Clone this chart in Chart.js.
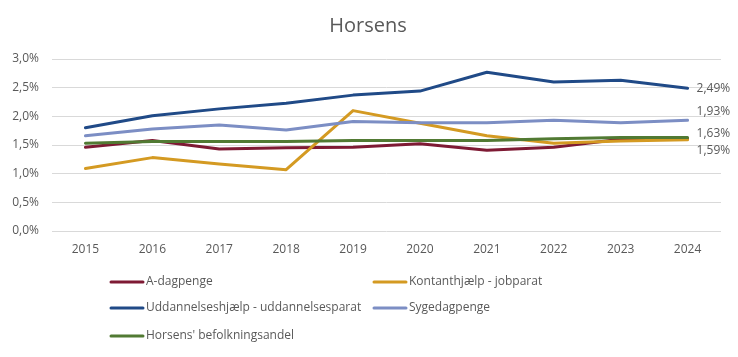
<!DOCTYPE html>
<html>
<head>
<meta charset="utf-8">
<script src="https://cdn.jsdelivr.net/npm/chart.js@4.4.1/dist/chart.umd.min.js"></script>
<style>
html,body{margin:0;padding:0;background:#fff;}
canvas{display:block;}
</style>
</head>
<body>
<canvas id="c" width="738" height="357"></canvas>
<script>
const categories = ['2015','2016','2017','2018','2019','2020','2021','2022','2023','2024'];
const aDagpenge = [1.46,1.58,1.43,1.45,1.46,1.52,1.41,1.46,1.60,1.61];
const kontanthjaelp = [1.09,1.28,1.17,1.07,2.10,1.88,1.66,1.53,1.57,1.59];
const uddannelseshjaelp = [1.80,2.01,2.13,2.23,2.37,2.44,2.77,2.60,2.63,2.49];
const sygedagpenge = [1.66,1.78,1.85,1.76,1.91,1.89,1.89,1.93,1.89,1.93];
const befolkningsandel = [1.53,1.56,1.56,1.56,1.58,1.58,1.58,1.61,1.63,1.63];
const seriesNames = ['A-dagpenge','Kontanthjælp - jobparat','Uddannelseshjælp - uddannelsesparat','Sygedagpenge',"Horsens' befolkningsandel"];
const yTicks = [0,0.5,1.0,1.5,2.0,2.5,3.0];

const colors = ['#7E1A34','#D49A22','#204A87','#7C8EC4','#517A33'];
const seriesData = [aDagpenge,kontanthjaelp,uddannelseshjaelp,sygedagpenge,befolkningsandel];
// end labels: dataset index -> vertical offset
const endLabels = [{i:2,dy:0},{i:3,dy:-9},{i:4,dy:-4},{i:1,dy:11}];

const FONT = "'Open Sans', sans-serif";
const GREY = '#595959';

const datasets = seriesData.map((d,i)=>({
  label: seriesNames[i],
  data: d,
  borderColor: colors[i],
  backgroundColor: colors[i],
  borderWidth: 3,
  pointRadius: 0,
  pointHoverRadius: 0,
  tension: 0,
  borderJoinStyle: 'round',
  borderCapStyle: 'round',
  fill: false,
  order: 4 - i
}));

const extras = {
  id: 'extras',
  afterDatasetsDraw(chart){
    const ctx = chart.ctx;
    ctx.save();
    ctx.font = '12px ' + FONT;
    ctx.fillStyle = GREY;
    ctx.textAlign = 'left';
    ctx.textBaseline = 'middle';
    endLabels.forEach(l=>{
      const meta = chart.getDatasetMeta(l.i);
      const pt = meta.data[meta.data.length-1];
      const v = seriesData[l.i][seriesData[l.i].length-1];
      ctx.fillText(v.toFixed(2).replace('.',',')+'%', pt.x + 9, pt.y + l.dy);
    });
    ctx.restore();
  },
  afterDraw(chart){
    const ctx = chart.ctx;
    ctx.save();
    // title
    ctx.font = '20px ' + FONT;
    ctx.fillStyle = GREY;
    ctx.textAlign = 'center';
    ctx.textBaseline = 'middle';
    ctx.fillText('Horsens', 368, 26);
    // legend
    const colX = [110, 373];
    const rowY = [282, 308, 336];
    ctx.font = '12px ' + FONT;
    ctx.textAlign = 'left';
    chart.data.datasets.forEach((ds,i)=>{
      const x = colX[i%2], y = rowY[Math.floor(i/2)];
      ctx.strokeStyle = ds.borderColor;
      ctx.lineWidth = 3;
      ctx.lineCap = 'round';
      ctx.beginPath(); ctx.moveTo(x+1,y); ctx.lineTo(x+33,y); ctx.stroke();
      ctx.fillStyle = GREY;
      ctx.fillText(ds.label, x+36, y);
    });
    ctx.restore();
  }
};

new Chart(document.getElementById('c'), {
  type: 'line',
  data: { labels: categories, datasets },
  options: {
    responsive: false,
    animation: false,
    devicePixelRatio: 1,
    layout: { padding: { left: 0, right: 17, top: 59, bottom: 96 } },
    plugins: { legend: { display: false }, title: { display: false }, tooltip: { enabled: false } },
    scales: {
      x: {
        offset: true,
        grid: { display: false, drawTicks: false },
        border: { display: false },
        ticks: { color: GREY, font: { family: FONT, size: 12 }, padding: 11, maxRotation: 0 },
        afterFit(s){ s.height = 30; }
      },
      y: {
        min: 0, max: 3,
        afterBuildTicks(s){ s.ticks = yTicks.map(v=>({value:v})); },
        grid: { color: '#D9D9D9', lineWidth: 1, drawTicks: false },
        border: { display: false },
        ticks: { color: GREY, font: { family: FONT, size: 12 }, padding: 13,
          callback: v => v.toFixed(1).replace('.',',') + '%' },
        afterFit(s){ s.width = 52; }
      }
    }
  },
  plugins: [extras]
});
</script>
</body>
</html>
